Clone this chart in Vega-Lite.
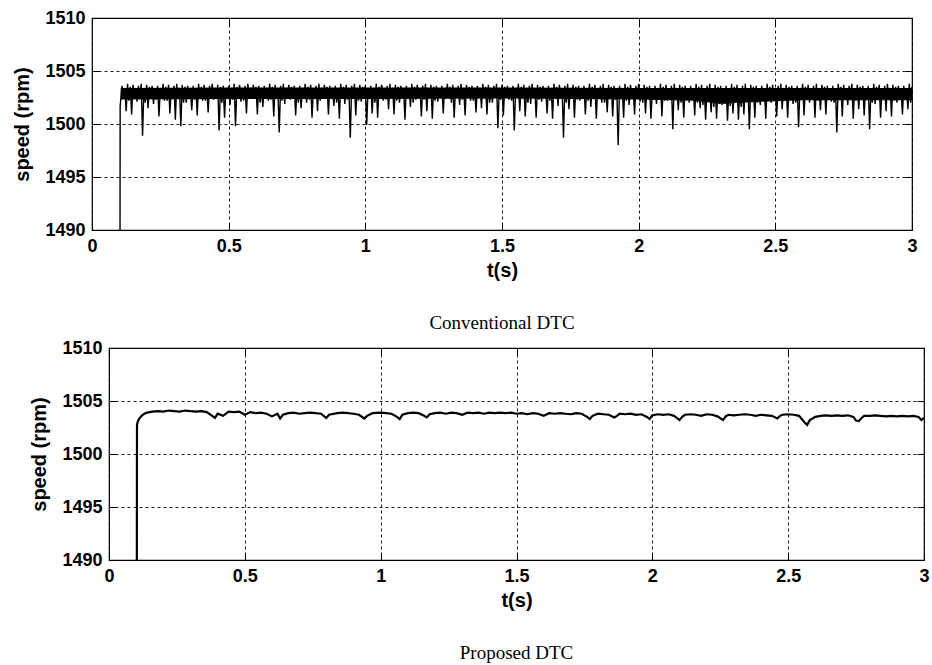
{
"$schema": "https://vega.github.io/schema/vega-lite/v6.json",
"padding": {"left": 5, "top": 8, "right": 2, "bottom": 4},
"spacing": 4,
"config": {
 "view": {"stroke": "black", "strokeWidth": 1.2},
 "axis": {"labelFont": "Liberation Sans", "labelFontWeight": "bold", "labelFontSize": 18, "labelColor": "black", "titleFont": "Liberation Sans", "titleFontWeight": "bold", "titleFontSize": 20, "titleColor": "black", "domain": false, "tickColor": "black", "tickSize": -7, "tickWidth": 1, "gridColor": "black", "gridDash": [3, 3], "gridOpacity": 1, "gridWidth": 0.9, "labelFlush": false},
 "title": {"font": "Liberation Serif", "fontSize": 19, "fontWeight": "normal", "color": "black"}
},
"datasets": {
"band": [
{"t":0.105,"lo":1502.3,"hi":1503.4},{"t":0.5,"lo":1502.35,"hi":1503.45},{"t":1.0,"lo":1502.35,"hi":1503.45},{"t":1.5,"lo":1502.4,"hi":1503.45},{"t":2.0,"lo":1502.3,"hi":1503.4},{"t":2.2,"lo":1502.2,"hi":1503.4},{"t":2.3,"lo":1501.9,"hi":1503.4},{"t":2.45,"lo":1502.1,"hi":1503.4},{"t":2.6,"lo":1502.25,"hi":1503.4},{"t":3.0,"lo":1502.25,"hi":1503.4}
],
"conv": [
{"t":0.1025,"v":1490},{"t":0.103,"v":1501.7},
{"t":0.11,"v":1503.6},{"t":0.115,"v":1502.5},{"t":0.12,"v":1503.4},{"t":0.125,"v":1501.2},{"t":0.13,"v":1503.8},{"t":0.135,"v":1502.2},{"t":0.14,"v":1503.5},{"t":0.145,"v":1500.9},{"t":0.15,"v":1503.7},{"t":0.155,"v":1502.7},{"t":0.16,"v":1503.3},{"t":0.165,"v":1502.1},{"t":0.17,"v":1503.6},{"t":0.175,"v":1502.4},{"t":0.18,"v":1503.8},{"t":0.185,"v":1498.9},{"t":0.19,"v":1503.4},{"t":0.195,"v":1502.0},{"t":0.2,"v":1503.7},{"t":0.205,"v":1501.5},
{"t":0.21,"v":1503.5},{"t":0.215,"v":1502.6},{"t":0.22,"v":1503.6},{"t":0.225,"v":1501.9},{"t":0.23,"v":1503.3},{"t":0.235,"v":1502.3},{"t":0.24,"v":1503.6},{"t":0.245,"v":1500.7},{"t":0.25,"v":1503.4},{"t":0.255,"v":1502.5},{"t":0.26,"v":1503.8},{"t":0.265,"v":1502.2},{"t":0.27,"v":1503.5},{"t":0.275,"v":1502.2},{"t":0.28,"v":1503.7},{"t":0.285,"v":1501.0},{"t":0.29,"v":1503.3},{"t":0.295,"v":1502.7},{"t":0.3,"v":1503.6},{"t":0.305,"v":1500.4},
{"t":0.31,"v":1503.8},{"t":0.315,"v":1502.4},{"t":0.32,"v":1503.4},{"t":0.325,"v":1499.8},{"t":0.33,"v":1503.7},{"t":0.335,"v":1502.0},{"t":0.34,"v":1503.5},{"t":0.345,"v":1502.0},{"t":0.35,"v":1503.6},{"t":0.355,"v":1502.6},{"t":0.36,"v":1503.3},{"t":0.365,"v":1501.3},{"t":0.37,"v":1503.6},{"t":0.375,"v":1502.3},{"t":0.38,"v":1503.4},{"t":0.385,"v":1500.8},{"t":0.39,"v":1503.8},{"t":0.395,"v":1502.5},{"t":0.4,"v":1503.5},{"t":0.405,"v":1502.2},
{"t":0.41,"v":1503.7},{"t":0.415,"v":1502.2},{"t":0.42,"v":1503.3},{"t":0.425,"v":1501.1},{"t":0.43,"v":1503.6},{"t":0.435,"v":1502.7},{"t":0.44,"v":1503.8},{"t":0.445,"v":1502.3},{"t":0.45,"v":1503.4},{"t":0.455,"v":1502.4},{"t":0.46,"v":1503.7},{"t":0.465,"v":1499.4},{"t":0.47,"v":1503.5},{"t":0.475,"v":1502.0},{"t":0.48,"v":1503.6},{"t":0.485,"v":1500.6},{"t":0.49,"v":1503.3},{"t":0.495,"v":1502.6},{"t":0.5,"v":1503.6},{"t":0.505,"v":1501.8},
{"t":0.51,"v":1503.4},{"t":0.515,"v":1502.3},{"t":0.52,"v":1503.8},{"t":0.525,"v":1499.8},{"t":0.53,"v":1503.5},{"t":0.535,"v":1502.5},{"t":0.54,"v":1503.7},{"t":0.545,"v":1502.1},{"t":0.55,"v":1503.3},{"t":0.555,"v":1502.2},{"t":0.56,"v":1503.6},{"t":0.565,"v":1501.0},{"t":0.57,"v":1503.8},{"t":0.575,"v":1502.7},{"t":0.58,"v":1503.4},{"t":0.585,"v":1502.4},{"t":0.59,"v":1503.7},{"t":0.595,"v":1502.4},{"t":0.6,"v":1503.5},{"t":0.605,"v":1500.9},
{"t":0.61,"v":1503.6},{"t":0.615,"v":1502.0},{"t":0.62,"v":1503.3},{"t":0.625,"v":1501.6},{"t":0.63,"v":1503.6},{"t":0.635,"v":1502.6},{"t":0.64,"v":1503.4},{"t":0.645,"v":1502.2},{"t":0.65,"v":1503.8},{"t":0.655,"v":1502.3},{"t":0.66,"v":1503.5},{"t":0.665,"v":1500.7},{"t":0.67,"v":1503.7},{"t":0.675,"v":1502.5},{"t":0.68,"v":1503.3},{"t":0.685,"v":1499.2},{"t":0.69,"v":1503.6},{"t":0.695,"v":1502.2},{"t":0.7,"v":1503.8},{"t":0.705,"v":1501.9},
{"t":0.71,"v":1503.4},{"t":0.715,"v":1502.7},{"t":0.72,"v":1503.7},{"t":0.725,"v":1502.3},{"t":0.73,"v":1503.5},{"t":0.735,"v":1502.4},{"t":0.74,"v":1503.6},{"t":0.745,"v":1500.8},{"t":0.75,"v":1503.3},{"t":0.755,"v":1502.0},{"t":0.76,"v":1503.6},{"t":0.765,"v":1501.5},{"t":0.77,"v":1503.4},{"t":0.775,"v":1502.6},{"t":0.78,"v":1503.8},{"t":0.785,"v":1502.0},{"t":0.79,"v":1503.5},{"t":0.795,"v":1502.3},{"t":0.8,"v":1503.7},{"t":0.805,"v":1500.6},
{"t":0.81,"v":1503.3},{"t":0.815,"v":1502.5},{"t":0.82,"v":1503.6},{"t":0.825,"v":1501.2},{"t":0.83,"v":1503.8},{"t":0.835,"v":1502.2},{"t":0.84,"v":1503.4},{"t":0.845,"v":1502.4},{"t":0.85,"v":1503.7},{"t":0.855,"v":1502.7},{"t":0.86,"v":1503.5},{"t":0.865,"v":1500.9},{"t":0.87,"v":1503.6},{"t":0.875,"v":1502.4},{"t":0.88,"v":1503.3},{"t":0.885,"v":1501.7},{"t":0.89,"v":1503.6},{"t":0.895,"v":1502.0},{"t":0.9,"v":1503.4},{"t":0.905,"v":1500.5},
{"t":0.91,"v":1503.8},{"t":0.915,"v":1502.6},{"t":0.92,"v":1503.5},{"t":0.925,"v":1501.9},{"t":0.93,"v":1503.7},{"t":0.935,"v":1502.3},{"t":0.94,"v":1503.3},{"t":0.945,"v":1498.7},{"t":0.95,"v":1503.6},{"t":0.955,"v":1502.5},{"t":0.96,"v":1503.8},{"t":0.965,"v":1500.8},{"t":0.97,"v":1503.4},{"t":0.975,"v":1502.2},{"t":0.98,"v":1503.7},{"t":0.985,"v":1502.1},{"t":0.99,"v":1503.5},{"t":0.995,"v":1502.7},{"t":1.0,"v":1503.6},{"t":1.005,"v":1499.9},
{"t":1.01,"v":1503.3},{"t":1.015,"v":1502.4},{"t":1.02,"v":1503.6},{"t":1.025,"v":1501.0},{"t":1.03,"v":1503.4},{"t":1.035,"v":1502.0},{"t":1.04,"v":1503.8},{"t":1.045,"v":1500.6},{"t":1.05,"v":1503.5},{"t":1.055,"v":1502.6},{"t":1.06,"v":1503.7},{"t":1.065,"v":1502.2},{"t":1.07,"v":1503.3},{"t":1.075,"v":1502.3},{"t":1.08,"v":1503.6},{"t":1.085,"v":1501.4},{"t":1.09,"v":1503.8},{"t":1.095,"v":1502.5},{"t":1.1,"v":1503.4},{"t":1.105,"v":1500.9},
{"t":1.11,"v":1503.7},{"t":1.115,"v":1502.2},{"t":1.12,"v":1503.5},{"t":1.125,"v":1502.0},{"t":1.13,"v":1503.6},{"t":1.135,"v":1502.7},{"t":1.14,"v":1503.3},{"t":1.145,"v":1500.4},{"t":1.15,"v":1503.6},{"t":1.155,"v":1502.4},{"t":1.16,"v":1503.4},{"t":1.165,"v":1501.6},{"t":1.17,"v":1503.8},{"t":1.175,"v":1502.0},{"t":1.18,"v":1503.5},{"t":1.185,"v":1502.3},{"t":1.19,"v":1503.7},{"t":1.195,"v":1502.6},{"t":1.2,"v":1503.3},{"t":1.205,"v":1500.7},
{"t":1.21,"v":1503.6},{"t":1.215,"v":1502.3},{"t":1.22,"v":1503.8},{"t":1.225,"v":1501.2},{"t":1.23,"v":1503.4},{"t":1.235,"v":1502.5},{"t":1.24,"v":1503.7},{"t":1.245,"v":1500.5},{"t":1.25,"v":1503.5},{"t":1.255,"v":1502.2},{"t":1.26,"v":1503.6},{"t":1.265,"v":1502.1},{"t":1.27,"v":1503.3},{"t":1.275,"v":1502.7},{"t":1.28,"v":1503.6},{"t":1.285,"v":1501.0},{"t":1.29,"v":1503.4},{"t":1.295,"v":1502.4},{"t":1.3,"v":1503.8},{"t":1.305,"v":1502.4},
{"t":1.31,"v":1503.5},{"t":1.315,"v":1502.0},{"t":1.32,"v":1503.7},{"t":1.325,"v":1500.6},{"t":1.33,"v":1503.3},{"t":1.335,"v":1502.6},{"t":1.34,"v":1503.6},{"t":1.345,"v":1501.8},{"t":1.35,"v":1503.8},{"t":1.355,"v":1502.3},{"t":1.36,"v":1503.4},{"t":1.365,"v":1500.8},{"t":1.37,"v":1503.7},{"t":1.375,"v":1502.5},{"t":1.38,"v":1503.5},{"t":1.385,"v":1502.2},{"t":1.39,"v":1503.6},{"t":1.395,"v":1502.2},{"t":1.4,"v":1503.3},{"t":1.405,"v":1501.1},
{"t":1.41,"v":1503.6},{"t":1.415,"v":1502.7},{"t":1.42,"v":1503.4},{"t":1.425,"v":1501.5},{"t":1.43,"v":1503.8},{"t":1.435,"v":1502.4},{"t":1.44,"v":1503.5},{"t":1.445,"v":1500.9},{"t":1.45,"v":1503.7},{"t":1.455,"v":1502.0},{"t":1.46,"v":1503.3},{"t":1.465,"v":1502.0},{"t":1.47,"v":1503.6},{"t":1.475,"v":1502.6},{"t":1.48,"v":1503.8},{"t":1.485,"v":1499.6},{"t":1.49,"v":1503.4},{"t":1.495,"v":1502.3},{"t":1.5,"v":1503.7},{"t":1.505,"v":1500.8},
{"t":1.51,"v":1503.5},{"t":1.515,"v":1502.5},{"t":1.52,"v":1503.6},{"t":1.525,"v":1502.3},{"t":1.53,"v":1503.3},{"t":1.535,"v":1502.2},{"t":1.54,"v":1503.6},{"t":1.545,"v":1499.4},{"t":1.55,"v":1503.4},{"t":1.555,"v":1502.7},{"t":1.56,"v":1503.8},{"t":1.565,"v":1501.2},{"t":1.57,"v":1503.5},{"t":1.575,"v":1502.4},{"t":1.58,"v":1503.7},{"t":1.585,"v":1500.7},{"t":1.59,"v":1503.3},{"t":1.595,"v":1502.0},{"t":1.6,"v":1503.6},{"t":1.605,"v":1501.9},
{"t":1.61,"v":1503.8},{"t":1.615,"v":1502.6},{"t":1.62,"v":1503.4},{"t":1.625,"v":1500.6},{"t":1.63,"v":1503.7},{"t":1.635,"v":1502.3},{"t":1.64,"v":1503.5},{"t":1.645,"v":1502.1},{"t":1.65,"v":1503.6},{"t":1.655,"v":1502.5},{"t":1.66,"v":1503.3},{"t":1.665,"v":1501.0},{"t":1.67,"v":1503.6},{"t":1.675,"v":1502.2},{"t":1.68,"v":1503.4},{"t":1.685,"v":1500.5},{"t":1.69,"v":1503.8},{"t":1.695,"v":1502.7},{"t":1.7,"v":1503.5},{"t":1.705,"v":1501.7},
{"t":1.71,"v":1503.7},{"t":1.715,"v":1502.4},{"t":1.72,"v":1503.3},{"t":1.725,"v":1498.7},{"t":1.73,"v":1503.6},{"t":1.735,"v":1502.0},{"t":1.74,"v":1503.8},{"t":1.745,"v":1501.4},{"t":1.75,"v":1503.4},{"t":1.755,"v":1502.6},{"t":1.76,"v":1503.7},{"t":1.765,"v":1500.6},{"t":1.77,"v":1503.5},{"t":1.775,"v":1502.3},{"t":1.78,"v":1503.6},{"t":1.785,"v":1502.2},{"t":1.79,"v":1503.3},{"t":1.795,"v":1502.5},{"t":1.8,"v":1503.6},{"t":1.805,"v":1500.9},
{"t":1.81,"v":1503.4},{"t":1.815,"v":1502.2},{"t":1.82,"v":1503.8},{"t":1.825,"v":1501.6},{"t":1.83,"v":1503.5},{"t":1.835,"v":1502.7},{"t":1.84,"v":1503.7},{"t":1.845,"v":1500.5},{"t":1.85,"v":1503.3},{"t":1.855,"v":1502.4},{"t":1.86,"v":1503.6},{"t":1.865,"v":1502.0},{"t":1.87,"v":1503.8},{"t":1.875,"v":1502.0},{"t":1.88,"v":1503.4},{"t":1.885,"v":1501.1},{"t":1.89,"v":1503.7},{"t":1.895,"v":1502.6},{"t":1.9,"v":1503.5},{"t":1.905,"v":1500.7},
{"t":1.91,"v":1503.6},{"t":1.915,"v":1502.3},{"t":1.92,"v":1503.3},{"t":1.925,"v":1498.0},{"t":1.93,"v":1503.6},{"t":1.935,"v":1502.5},{"t":1.94,"v":1503.4},{"t":1.945,"v":1500.6},{"t":1.95,"v":1503.8},{"t":1.955,"v":1502.2},{"t":1.96,"v":1503.5},{"t":1.965,"v":1501.8},{"t":1.97,"v":1503.7},{"t":1.975,"v":1502.7},{"t":1.98,"v":1503.3},{"t":1.985,"v":1500.9},{"t":1.99,"v":1503.6},{"t":1.995,"v":1502.4},{"t":2.0,"v":1503.8},{"t":2.005,"v":1502.1},
{"t":2.01,"v":1503.4},{"t":2.015,"v":1502.0},{"t":2.02,"v":1503.7},{"t":2.025,"v":1501.0},{"t":2.03,"v":1503.5},{"t":2.035,"v":1502.6},{"t":2.04,"v":1503.6},{"t":2.045,"v":1500.5},{"t":2.05,"v":1503.3},{"t":2.055,"v":1502.3},{"t":2.06,"v":1503.6},{"t":2.065,"v":1501.9},{"t":2.07,"v":1503.4},{"t":2.075,"v":1502.5},{"t":2.08,"v":1503.8},{"t":2.085,"v":1500.7},{"t":2.09,"v":1503.5},{"t":2.095,"v":1502.2},{"t":2.1,"v":1503.7},{"t":2.105,"v":1502.2},
{"t":2.11,"v":1503.3},{"t":2.115,"v":1502.7},{"t":2.12,"v":1503.6},{"t":2.125,"v":1499.5},{"t":2.13,"v":1503.8},{"t":2.135,"v":1502.4},{"t":2.14,"v":1503.4},{"t":2.145,"v":1501.3},{"t":2.15,"v":1503.7},{"t":2.155,"v":1502.0},{"t":2.16,"v":1503.5},{"t":2.165,"v":1500.6},{"t":2.17,"v":1503.6},{"t":2.175,"v":1502.6},{"t":2.18,"v":1503.3},{"t":2.185,"v":1502.0},{"t":2.19,"v":1503.6},{"t":2.195,"v":1502.3},{"t":2.2,"v":1503.4},{"t":2.205,"v":1500.8},
{"t":2.21,"v":1503.8},{"t":2.215,"v":1502.0},{"t":2.22,"v":1503.5},{"t":2.225,"v":1501.5},{"t":2.23,"v":1503.7},{"t":2.235,"v":1501.8},{"t":2.24,"v":1503.3},{"t":2.245,"v":1500.4},{"t":2.25,"v":1503.6},{"t":2.255,"v":1502.3},{"t":2.26,"v":1503.8},{"t":2.265,"v":1501.1},{"t":2.27,"v":1503.4},{"t":2.275,"v":1501.6},{"t":2.28,"v":1503.7},{"t":2.285,"v":1500.5},{"t":2.29,"v":1503.5},{"t":2.295,"v":1501.9},{"t":2.3,"v":1503.6},{"t":2.305,"v":1501.8},
{"t":2.31,"v":1503.3},{"t":2.315,"v":1501.9},{"t":2.32,"v":1503.6},{"t":2.325,"v":1500.3},{"t":2.33,"v":1503.4},{"t":2.335,"v":1501.7},{"t":2.34,"v":1503.8},{"t":2.345,"v":1501.0},{"t":2.35,"v":1503.5},{"t":2.355,"v":1502.1},{"t":2.36,"v":1503.7},{"t":2.365,"v":1500.4},{"t":2.37,"v":1503.3},{"t":2.375,"v":1501.6},{"t":2.38,"v":1503.6},{"t":2.385,"v":1500.9},{"t":2.39,"v":1503.8},{"t":2.395,"v":1502.2},{"t":2.4,"v":1503.4},{"t":2.405,"v":1499.5},
{"t":2.41,"v":1503.7},{"t":2.415,"v":1502.4},{"t":2.42,"v":1503.5},{"t":2.425,"v":1500.6},{"t":2.43,"v":1503.6},{"t":2.435,"v":1502.0},{"t":2.44,"v":1503.3},{"t":2.445,"v":1501.8},{"t":2.45,"v":1503.6},{"t":2.455,"v":1502.6},{"t":2.46,"v":1503.4},{"t":2.465,"v":1500.5},{"t":2.47,"v":1503.8},{"t":2.475,"v":1502.3},{"t":2.48,"v":1503.5},{"t":2.485,"v":1502.0},{"t":2.49,"v":1503.7},{"t":2.495,"v":1502.5},{"t":2.5,"v":1503.3},{"t":2.505,"v":1500.7},
{"t":2.51,"v":1503.6},{"t":2.515,"v":1502.2},{"t":2.52,"v":1503.8},{"t":2.525,"v":1501.4},{"t":2.53,"v":1503.4},{"t":2.535,"v":1502.7},{"t":2.54,"v":1503.7},{"t":2.545,"v":1500.6},{"t":2.55,"v":1503.5},{"t":2.555,"v":1502.4},{"t":2.56,"v":1503.6},{"t":2.565,"v":1501.9},{"t":2.57,"v":1503.3},{"t":2.575,"v":1502.0},{"t":2.58,"v":1503.6},{"t":2.585,"v":1499.7},{"t":2.59,"v":1503.4},{"t":2.595,"v":1502.6},{"t":2.6,"v":1503.8},{"t":2.605,"v":1500.8},
{"t":2.61,"v":1503.5},{"t":2.615,"v":1502.3},{"t":2.62,"v":1503.7},{"t":2.625,"v":1502.0},{"t":2.63,"v":1503.3},{"t":2.635,"v":1502.5},{"t":2.64,"v":1503.6},{"t":2.645,"v":1500.6},{"t":2.65,"v":1503.8},{"t":2.655,"v":1502.2},{"t":2.66,"v":1503.4},{"t":2.665,"v":1501.3},{"t":2.67,"v":1503.7},{"t":2.675,"v":1502.7},{"t":2.68,"v":1503.5},{"t":2.685,"v":1500.9},{"t":2.69,"v":1503.6},{"t":2.695,"v":1502.4},{"t":2.7,"v":1503.3},{"t":2.705,"v":1502.1},
{"t":2.71,"v":1503.6},{"t":2.715,"v":1502.0},{"t":2.72,"v":1503.4},{"t":2.725,"v":1499.2},{"t":2.73,"v":1503.8},{"t":2.735,"v":1502.6},{"t":2.74,"v":1503.5},{"t":2.745,"v":1500.7},{"t":2.75,"v":1503.7},{"t":2.755,"v":1502.3},{"t":2.76,"v":1503.3},{"t":2.765,"v":1501.8},{"t":2.77,"v":1503.6},{"t":2.775,"v":1502.5},{"t":2.78,"v":1503.8},{"t":2.785,"v":1500.5},{"t":2.79,"v":1503.4},{"t":2.795,"v":1502.2},{"t":2.8,"v":1503.7},{"t":2.805,"v":1501.4},
{"t":2.81,"v":1503.5},{"t":2.815,"v":1502.7},{"t":2.82,"v":1503.6},{"t":2.825,"v":1500.8},{"t":2.83,"v":1503.3},{"t":2.835,"v":1502.4},{"t":2.84,"v":1503.6},{"t":2.845,"v":1499.5},{"t":2.85,"v":1503.4},{"t":2.855,"v":1502.0},{"t":2.86,"v":1503.8},{"t":2.865,"v":1501.9},{"t":2.87,"v":1503.5},{"t":2.875,"v":1502.6},{"t":2.88,"v":1503.7},{"t":2.885,"v":1500.6},{"t":2.89,"v":1503.3},{"t":2.895,"v":1502.3},{"t":2.9,"v":1503.6},{"t":2.905,"v":1501.2},
{"t":2.91,"v":1503.8},{"t":2.915,"v":1502.5},{"t":2.92,"v":1503.4},{"t":2.925,"v":1500.7},{"t":2.93,"v":1503.7},{"t":2.935,"v":1502.2},{"t":2.94,"v":1503.5},{"t":2.945,"v":1502.0},{"t":2.95,"v":1503.6},{"t":2.955,"v":1502.7},{"t":2.96,"v":1503.3},{"t":2.965,"v":1500.9},{"t":2.97,"v":1503.6},{"t":2.975,"v":1502.4},{"t":2.98,"v":1503.4},{"t":2.985,"v":1501.4},{"t":2.99,"v":1503.8},{"t":2.995,"v":1502.0},{"t":3.0,"v":1503.5}
],
"prop": [
{"t":0.1025,"v":1490},{"t":0.103,"v":1502.7},{"t":0.105,"v":1503.0},{"t":0.11,"v":1503.3},{"t":0.12,"v":1503.6},{"t":0.13,"v":1503.8},{"t":0.14,"v":1503.9},{"t":0.16,"v":1504.0},{"t":0.18,"v":1504.05},{"t":0.2,"v":1504.0},{"t":0.22,"v":1504.1},{"t":0.24,"v":1504.05},{"t":0.26,"v":1504.0},{"t":0.28,"v":1504.1},{"t":0.3,"v":1504.05},{"t":0.32,"v":1504.0},{"t":0.34,"v":1504.05},{"t":0.36,"v":1503.95},{"t":0.38,"v":1503.6},{"t":0.39,"v":1503.4},{"t":0.4,"v":1503.8},{"t":0.42,"v":1503.6},{"t":0.44,"v":1504.0},{"t":0.46,"v":1503.95},{"t":0.48,"v":1504.0},{"t":0.5,"v":1503.7},{"t":0.52,"v":1503.95},{"t":0.54,"v":1503.85},{"t":0.56,"v":1503.9},{"t":0.58,"v":1503.8},{"t":0.6,"v":1503.55},{"t":0.62,"v":1503.8},{"t":0.63,"v":1503.35},{"t":0.64,"v":1503.7},{"t":0.66,"v":1503.85},{"t":0.68,"v":1503.9},{"t":0.7,"v":1503.8},{"t":0.72,"v":1503.85},{"t":0.74,"v":1503.9},{"t":0.76,"v":1503.85},{"t":0.78,"v":1503.8},{"t":0.8,"v":1503.4},{"t":0.81,"v":1503.7},{"t":0.84,"v":1503.85},{"t":0.86,"v":1503.9},{"t":0.88,"v":1503.85},{"t":0.9,"v":1503.8},{"t":0.92,"v":1503.7},{"t":0.94,"v":1503.35},{"t":0.95,"v":1503.6},{"t":0.97,"v":1503.85},{"t":1.0,"v":1503.9},{"t":1.02,"v":1503.85},{"t":1.04,"v":1503.8},{"t":1.06,"v":1503.5},{"t":1.07,"v":1503.3},{"t":1.08,"v":1503.7},{"t":1.1,"v":1503.85},{"t":1.12,"v":1503.9},{"t":1.14,"v":1503.85},{"t":1.16,"v":1503.6},{"t":1.17,"v":1503.45},{"t":1.18,"v":1503.75},{"t":1.2,"v":1503.85},{"t":1.22,"v":1503.9},{"t":1.24,"v":1503.8},{"t":1.26,"v":1503.9},{"t":1.28,"v":1503.85},{"t":1.3,"v":1503.7},{"t":1.32,"v":1503.9},{"t":1.34,"v":1503.85},{"t":1.36,"v":1503.9},{"t":1.38,"v":1503.8},{"t":1.4,"v":1503.9},{"t":1.42,"v":1503.85},{"t":1.44,"v":1503.9},{"t":1.46,"v":1503.85},{"t":1.48,"v":1503.9},{"t":1.5,"v":1503.8},{"t":1.52,"v":1503.85},{"t":1.54,"v":1503.75},{"t":1.56,"v":1503.85},{"t":1.58,"v":1503.8},{"t":1.6,"v":1503.6},{"t":1.62,"v":1503.85},{"t":1.64,"v":1503.8},{"t":1.66,"v":1503.85},{"t":1.68,"v":1503.8},{"t":1.7,"v":1503.75},{"t":1.72,"v":1503.85},{"t":1.74,"v":1503.8},{"t":1.76,"v":1503.5},{"t":1.77,"v":1503.3},{"t":1.78,"v":1503.6},{"t":1.8,"v":1503.8},{"t":1.82,"v":1503.75},{"t":1.84,"v":1503.7},{"t":1.86,"v":1503.45},{"t":1.87,"v":1503.6},{"t":1.88,"v":1503.8},{"t":1.9,"v":1503.75},{"t":1.92,"v":1503.8},{"t":1.94,"v":1503.7},{"t":1.96,"v":1503.75},{"t":1.98,"v":1503.5},{"t":1.99,"v":1503.3},{"t":2.0,"v":1503.65},{"t":2.02,"v":1503.75},{"t":2.04,"v":1503.7},{"t":2.06,"v":1503.75},{"t":2.08,"v":1503.6},{"t":2.1,"v":1503.2},{"t":2.11,"v":1503.5},{"t":2.12,"v":1503.7},{"t":2.14,"v":1503.75},{"t":2.16,"v":1503.7},{"t":2.18,"v":1503.6},{"t":2.2,"v":1503.75},{"t":2.22,"v":1503.7},{"t":2.24,"v":1503.55},{"t":2.26,"v":1503.2},{"t":2.27,"v":1503.55},{"t":2.28,"v":1503.7},{"t":2.3,"v":1503.65},{"t":2.32,"v":1503.7},{"t":2.34,"v":1503.75},{"t":2.36,"v":1503.7},{"t":2.38,"v":1503.6},{"t":2.4,"v":1503.7},{"t":2.42,"v":1503.65},{"t":2.44,"v":1503.6},{"t":2.46,"v":1503.35},{"t":2.47,"v":1503.6},{"t":2.48,"v":1503.7},{"t":2.5,"v":1503.75},{"t":2.52,"v":1503.7},{"t":2.54,"v":1503.6},{"t":2.56,"v":1503.0},{"t":2.57,"v":1502.75},{"t":2.58,"v":1503.2},{"t":2.6,"v":1503.5},{"t":2.62,"v":1503.6},{"t":2.64,"v":1503.65},{"t":2.66,"v":1503.6},{"t":2.68,"v":1503.65},{"t":2.7,"v":1503.6},{"t":2.72,"v":1503.65},{"t":2.74,"v":1503.5},{"t":2.75,"v":1503.15},{"t":2.76,"v":1503.1},{"t":2.77,"v":1503.4},{"t":2.78,"v":1503.6},{"t":2.8,"v":1503.6},{"t":2.82,"v":1503.65},{"t":2.84,"v":1503.6},{"t":2.86,"v":1503.55},{"t":2.88,"v":1503.6},{"t":2.9,"v":1503.55},{"t":2.92,"v":1503.6},{"t":2.94,"v":1503.55},{"t":2.96,"v":1503.6},{"t":2.98,"v":1503.5},{"t":2.99,"v":1503.2},{"t":3.0,"v":1503.4}
]
},
"vconcat": [
 {"hconcat": [
  {"width": 1, "height": 1, "view": {"stroke": null}, "data": {"values": [{"t": 0}]}, "mark": {"type": "point", "opacity": 0}, "encoding": {}},
  {
   "width": 820, "height": 212,
   "title": {"text": "Conventional DTC", "orient": "bottom", "offset": 34},
   "layer": [
    {"data": {"name": "band"}, "mark": {"type": "area", "color": "black", "opacity": 1, "clip": true},
     "encoding": {
      "x": {"field": "t", "type": "quantitative", "title": "t(s)", "scale": {"domain": [0, 3], "nice": false}, "axis": {"orient": "bottom", "values": [0, 0.5, 1, 1.5, 2, 2.5, 3], "format": "~g", "labelPadding": 14, "titlePadding": 5}},
      "y": {"field": "lo", "type": "quantitative", "title": "speed (rpm)", "scale": {"domain": [1490, 1510], "nice": false, "zero": false}, "axis": {"orient": "left", "values": [1490, 1495, 1500, 1505, 1510], "format": "d", "labelPadding": 14, "titlePadding": 12}},
      "y2": {"field": "hi"}
     }},
    {"data": {"name": "conv"}, "mark": {"type": "line", "color": "black", "strokeWidth": 1.4, "clip": true},
     "encoding": {
      "x": {"field": "t", "type": "quantitative", "axis": null},
      "y": {"field": "v", "type": "quantitative", "axis": null}
     }},
    {"data": {"name": "conv"}, "mark": {"type": "line", "opacity": 0},
     "encoding": {
      "x": {"field": "t", "type": "quantitative", "axis": {"orient": "top", "values": [0, 0.5, 1, 1.5, 2, 2.5, 3], "labels": false, "title": null, "grid": false}},
      "y": {"field": "v", "type": "quantitative", "axis": {"orient": "right", "values": [1490, 1495, 1500, 1505, 1510], "labels": false, "title": null, "grid": false}}
     }}
   ],
   "resolve": {"axis": {"x": "independent", "y": "independent"}}
  }
 ], "spacing": 0},
 {"hconcat": [
  {"width": 1, "height": 1, "view": {"stroke": null}, "data": {"values": [{"t": 0}]}, "mark": {"type": "point", "opacity": 0}, "encoding": {}},
  {
   "width": 815, "height": 212,
   "title": {"text": "Proposed DTC", "orient": "bottom", "offset": 34},
   "data": {"name": "prop"},
   "layer": [
    {"mark": {"type": "line", "color": "black", "strokeWidth": 2.2, "clip": true},
     "encoding": {
      "x": {"field": "t", "type": "quantitative", "title": "t(s)", "scale": {"domain": [0, 3], "nice": false}, "axis": {"orient": "bottom", "values": [0, 0.5, 1, 1.5, 2, 2.5, 3], "format": "~g", "labelPadding": 14, "titlePadding": 5}},
      "y": {"field": "v", "type": "quantitative", "title": "speed (rpm)", "scale": {"domain": [1490, 1510], "nice": false, "zero": false}, "axis": {"orient": "left", "values": [1490, 1495, 1500, 1505, 1510], "format": "d", "labelPadding": 14, "titlePadding": 12}}
     }},
    {"mark": {"type": "line", "opacity": 0},
     "encoding": {
      "x": {"field": "t", "type": "quantitative", "axis": {"orient": "top", "values": [0, 0.5, 1, 1.5, 2, 2.5, 3], "labels": false, "title": null, "grid": false}},
      "y": {"field": "v", "type": "quantitative", "axis": {"orient": "right", "values": [1490, 1495, 1500, 1505, 1510], "labels": false, "title": null, "grid": false}}
     }}
   ],
   "resolve": {"axis": {"x": "independent", "y": "independent"}}
  }
 ], "spacing": 17}
]
}
